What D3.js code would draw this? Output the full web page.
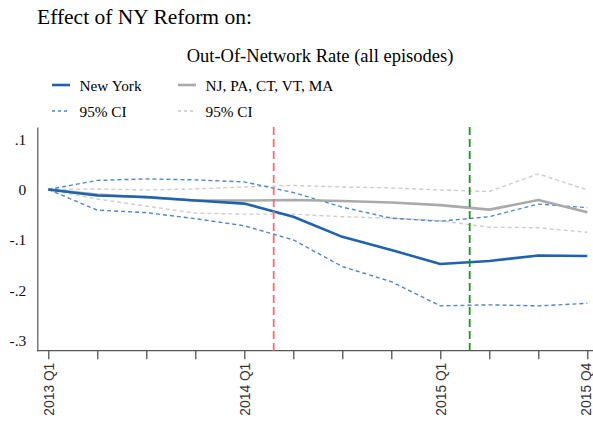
<!DOCTYPE html>
<html>
<head>
<meta charset="utf-8">
<script src="https://cdn.jsdelivr.net/npm/d3@7"></script>
<style>
  body { margin: 0; background: #fff; }
  svg { display: block; }
</style>
</head>
<body>
<script>
// quarters on the x axis
const quarters = ["2013 Q1", "2013 Q2", "2013 Q3", "2013 Q4",
  "2014 Q1", "2014 Q2", "2014 Q3", "2014 Q4",
  "2015 Q1", "2015 Q2", "2015 Q3", "2015 Q4"];
const labelled = ["2013 Q1", "2014 Q1", "2015 Q1", "2015 Q4"];

// New York estimates and 95% CI
const ny = [0, -0.012, -0.015, -0.022, -0.028, -0.054, -0.094, -0.120, -0.148, -0.142, -0.131, -0.132];
const nyHi = [0, 0.018, 0.021, 0.019, 0.015, -0.006, -0.035, -0.057, -0.063, -0.054, -0.029, -0.036];
const nyLo = [0, -0.041, -0.046, -0.058, -0.072, -0.100, -0.153, -0.183, -0.231, -0.229, -0.231, -0.226];

// comparison states
const ctrl = [0, -0.010, -0.016, -0.022, -0.022, -0.021, -0.023, -0.026, -0.031, -0.040, -0.021, -0.045];
const ctrlHi = [0, 0.001, -0.001, 0.001, 0.005, 0.008, 0.005, 0.003, -0.001, -0.004, 0.031, -0.001];
const ctrlLo = [0, -0.019, -0.033, -0.047, -0.049, -0.049, -0.054, -0.057, -0.062, -0.075, -0.076, -0.085];

// reform dates (in quarter index units)
const reformLines = [4.6, 8.6];

const yTicks = [0.1, 0, -0.1, -0.2, -0.3];

const serif = "'Liberation Serif', 'Times New Roman', serif";
const sans = "'Liberation Sans', Arial, sans-serif";

const svg = d3
  .select("body")
  .append("svg")
  .attr("width", 593)
  .attr("height", 423);

const x = d3.scaleLinear().domain([0, quarters.length - 1]).range([48.3, 587.3]);
const y = d3.scaleLinear().domain([-0.32, 0.124]).range([350.7, 127]);
const axisX = 37.3;

// titles
svg.append("text")
  .attr("x", 37)
  .attr("y", 24)
  .style("font-family", serif)
  .attr("font-size", 21.5)
  .text("Effect of NY Reform on:");

svg.append("text")
  .attr("x", 320)
  .attr("y", 62)
  .attr("text-anchor", "middle")
  .style("font-family", serif)
  .attr("font-size", 18.5)
  .text("Out-Of-Network Rate (all episodes)");

// legend
const legend = [
  { label: "New York", color: "#1f62b0", width: 2.6, dash: null, x: 52, y: 85 },
  { label: "NJ, PA, CT, VT, MA", color: "#aaaaaa", width: 2.6, dash: null, x: 178, y: 85 },
  { label: "95% CI", color: "#4f86c9", width: 1.3, dash: "3,3", x: 52, y: 111 },
  { label: "95% CI", color: "#c8c8c8", width: 1.3, dash: "3,3", x: 178, y: 111 },
];
const lg = svg.selectAll("g.legend").data(legend).enter().append("g").attr("class", "legend");
lg.append("line")
  .attr("x1", (d) => d.x)
  .attr("x2", (d) => d.x + 18)
  .attr("y1", (d) => d.y)
  .attr("y2", (d) => d.y)
  .attr("stroke", (d) => d.color)
  .attr("stroke-width", (d) => d.width)
  .attr("stroke-dasharray", (d) => d.dash);
lg.append("text")
  .attr("x", (d) => d.x + 27.5)
  .attr("y", (d) => d.y + 5.5)
  .style("font-family", serif)
  .attr("font-size", 15.3)
  .text((d) => d.label);

// y axis
const yAxis = d3.axisLeft(y)
  .tickValues(yTicks)
  .tickSize(0)
  .tickSizeOuter(0)
  .tickPadding(11)
  .tickFormat((v) => {
    if (Math.abs(v) < 1e-9) return "0";
    return (v < 0 ? "-" : "") + "." + Math.round(Math.abs(v) * 10);
  });
const gy = svg.append("g").attr("transform", `translate(${axisX},0)`).call(yAxis);
gy.select(".domain").attr("stroke", "#555").attr("stroke-width", 1.2);
gy.selectAll("text")
  .style("font-family", serif)
  .attr("font-size", 15.5)
  .attr("fill", "#111");

// x axis
const xAxis = d3.axisBottom(x)
  .tickValues(d3.range(quarters.length))
  .tickSize(8.5)
  .tickSizeOuter(0)
  .tickFormat((i) => (labelled.includes(quarters[i]) ? quarters[i] : ""));
const gx = svg.append("g").attr("transform", `translate(0,${y.range()[0]})`).call(xAxis);
gx.select(".domain").remove();
gx.append("line")
  .attr("x1", axisX)
  .attr("x2", 593)
  .attr("stroke", "#555")
  .attr("stroke-width", 1.2);
gx.selectAll(".tick line").attr("stroke", "#444").attr("stroke-width", 1.2);
gx.selectAll(".tick text")
  .attr("transform", "rotate(-90)")
  .attr("x", -12)
  .attr("y", 0)
  .attr("dy", (i) => (i === quarters.length - 1 ? "0.2em" : "0.36em"))
  .style("text-anchor", "end")
  .style("font-family", sans)
  .attr("font-size", 13.8)
  .attr("fill", "#333");

// series
const line = d3.line()
  .x((d, i) => x(i))
  .y((d) => y(d));

const series = [
  { values: ctrlHi, color: "#cdcdcd", width: 1.4, dash: "4,3" },
  { values: ctrlLo, color: "#cdcdcd", width: 1.4, dash: "4,3" },
  { values: nyHi, color: "#4f86c9", width: 1.4, dash: "4,3" },
  { values: nyLo, color: "#4f86c9", width: 1.4, dash: "4,3" },
  { values: ctrl, color: "#aaaaaa", width: 2.6, dash: null },
  { values: ny, color: "#1f62b0", width: 2.6, dash: null },
];

svg.selectAll("path.series")
  .data(series)
  .enter()
  .append("path")
  .attr("class", "series")
  .attr("d", (s) => line(s.values))
  .attr("fill", "none")
  .attr("stroke", (s) => s.color)
  .attr("stroke-width", (s) => s.width)
  .attr("stroke-dasharray", (s) => s.dash)
  .attr("stroke-linejoin", "round");

// reform lines
svg.selectAll("line.reform")
  .data(reformLines)
  .enter()
  .append("line")
  .attr("class", "reform")
  .attr("x1", (d) => x(d))
  .attr("x2", (d) => x(d))
  .attr("y1", y.range()[1])
  .attr("y2", y.range()[0])
  .attr("stroke", (d, i) => (i === 0 ? "#ff6b6b" : "#1a9a1a"))
  .attr("stroke-width", 1.8)
  .attr("stroke-dasharray", "8,4");
</script>
</body>
</html>
